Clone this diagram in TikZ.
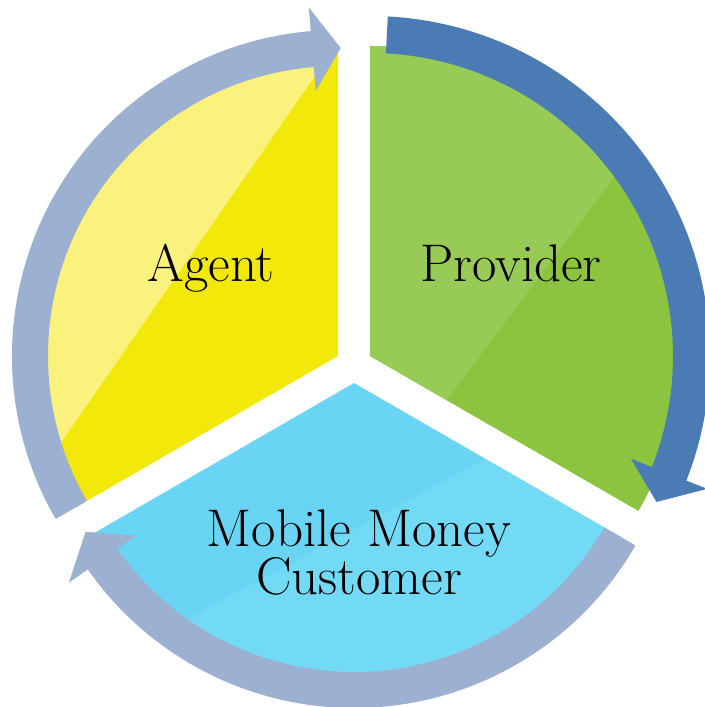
\documentclass[tikz,border=0pt]{standalone}
\usepackage{fontspec}
\usepackage{tikz}
\usetikzlibrary{calc}
\definecolor{agentyellow}{RGB}{242,232,10}
\definecolor{agentgloss}{RGB}{250,242,125}
\definecolor{providergreen}{RGB}{141,196,63}
\definecolor{providergloss}{RGB}{151,203,86}
\definecolor{customerblue}{RGB}{105,212,243}
\definecolor{customergloss}{RGB}{115,218,246}
\definecolor{ringlight}{RGB}{156,176,210}
\definecolor{ringdark}{RGB}{74,123,181}

% centre, radius, half width, head half width, start, end, tip, colour
\newcommand{\ringarrow}[8]{%
	\fill[#8, shift={(#1)}] ({#5}:{#2+#3}) arc[start angle=#5, end angle=#6, radius=#2+#3]
		-- ({#6}:{#2+#4}) -- ({#7}:{#2}) -- ({#6}:{#2-#4}) -- ({#6}:{#2-#3})
		arc[start angle=#6, end angle=#5, radius=#2-#3] -- cycle;}

\begin{document}
\begin{tikzpicture}[x=1bp, y=1bp,
	label/.style={font=\fontsize{53bp}{48bp}\selectfont, align=center, inner sep=0pt}]
		\clip (0,0) rectangle (705,707);
		\coordinate (cy) at (338,351);
		\coordinate (cg) at (370,351);
		\coordinate (cb) at (354,324);
		
		\begin{scope}
			\clip[shift={(cy)}] (0,0) -- (90:310) arc[start angle=90, end angle=210, radius=310] -- cycle;
			\fill[agentyellow] (0,0) rectangle (705,707);
			\fill[agentgloss] (432,800) -- (-129,-10) -- (-200,-10) -- (-200,800) -- cycle;
		\end{scope}
		\begin{scope}
			\clip[shift={(cg)}] (0,0) -- (-30:310) arc[start angle=-30, end angle=90, radius=310] -- cycle;
			\fill[providergreen] (0,0) rectangle (705,707);
			\fill[providergloss] (800,777) -- (180,-48) -- (-10,-48) -- (-10,777) -- cycle;
		\end{scope}
		\begin{scope}
			\clip[shift={(cb)}] (0,0) -- (210:310) arc[start angle=210, end angle=330, radius=310] -- cycle;
			\fill[customerblue] (0,0) rectangle (705,707);
			\fill[customergloss] (-10,-18) -- (800,417) -- (800,-50) -- (-10,-50) -- cycle;
		\end{scope}
		
		\ringarrow{cy}{308}{18}{42}{210}{94.8}{89.5}{ringlight}
		\ringarrow{cg}{321.5}{18.5}{41}{87}{-21.5}{-27}{ringdark}
		\ringarrow{cb}{307}{18}{41}{330}{215}{209}{ringlight}
		
		\node[label, anchor=base] (agent) at (211,425) {Agent};
		\node[label, anchor=base] (provider) at (511,425) {Provider};
		\node[label] (customer) at (359,154) {Mobile Money\\Customer};
	\end{tikzpicture}
\end{document}
